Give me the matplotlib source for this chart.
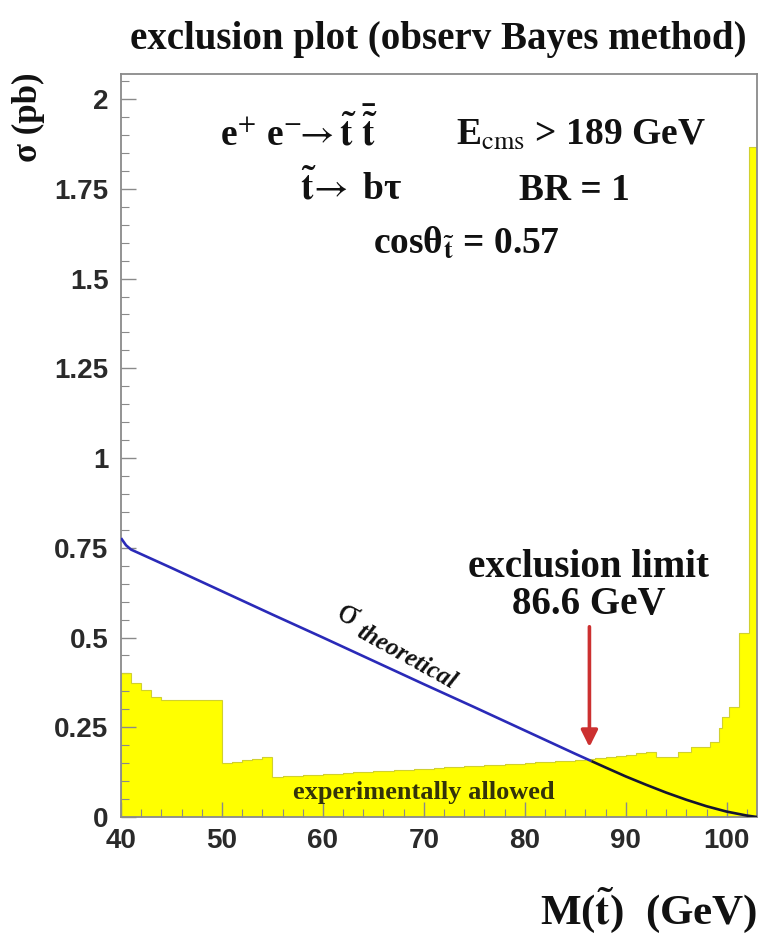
import numpy as np
import matplotlib
matplotlib.use("Agg")
import matplotlib.pyplot as plt

plt.rcParams['mathtext.fontset'] = 'stix'
plt.rcParams['font.family'] = ['Liberation Serif', 'DejaVu Serif']

# ---------------- data ----------------
# observed upper limit (yellow histogram): bin edges (GeV) and limit (pb)
limit_edges = [40, 41, 42, 43, 44, 50, 51, 52, 53, 54, 55,
               56, 57, 58, 59, 60, 61, 62, 63, 64, 65, 66, 67, 68, 69, 70,
               71, 72, 73, 74, 75, 76, 77, 78, 79, 80, 81, 82, 83, 84, 85,
               86, 87, 88, 89, 90, 91, 92, 93, 95.2, 96.5, 98.3, 99.2,
               99.5, 100.2, 101.2, 102.2, 103]
limit_values = [0.400, 0.373, 0.354, 0.334, 0.326, 0.150, 0.154, 0.158, 0.162, 0.166,
                0.111, 0.113, 0.114, 0.116, 0.117, 0.119, 0.121, 0.122, 0.124, 0.125,
                0.127, 0.129, 0.130, 0.132, 0.133, 0.135, 0.137, 0.138, 0.140, 0.141,
                0.143, 0.145, 0.146, 0.148, 0.149, 0.151, 0.153, 0.154, 0.156, 0.157,
                0.159, 0.161, 0.163, 0.166, 0.169, 0.173, 0.177, 0.181, 0.167, 0.180,
                0.195, 0.210, 0.248, 0.279, 0.306, 0.513, 1.866]

# theoretical cross section
theory_mass = [40, 40.5, 41, 45, 50, 55, 60, 65, 70, 75, 80, 85, 88, 90, 92, 94, 96, 98, 100, 102, 103]
theory_sigma = [0.777, 0.757, 0.745, 0.694, 0.629, 0.564, 0.500, 0.435, 0.370, 0.306,
                0.241, 0.176, 0.138, 0.113, 0.090, 0.068, 0.048, 0.030, 0.015, 0.004, 0.0]

exclusion_limit = 86.6

x_ticks = [40, 50, 60, 70, 80, 90, 100]
x_ticklabels = ['40', '50', '60', '70', '80', '90', '100']
y_ticks = [0, 0.25, 0.5, 0.75, 1, 1.25, 1.5, 1.75, 2]
y_ticklabels = ['0', '0.25', '0.5', '0.75', '1', '1.25', '1.5', '1.75', '2']

# ---------------- figure ----------------
W, H = 760, 933
fig = plt.figure(figsize=(W / 100, H / 100), dpi=100)
ax = fig.add_axes([121 / W, (H - 817) / H, (757 - 121) / W, (817 - 74) / H])
ax.set_xlim(40, 103)
ax.set_ylim(0, 2.07)

ax.stairs(limit_values, limit_edges, fill=True, color='#ffff00', zorder=1)
ax.stairs(limit_values, limit_edges, color='#d0d030', linewidth=0.8, zorder=2)

tm = np.array(theory_mass, dtype=float)
ts = np.array(theory_sigma, dtype=float)
s_cut = np.interp(exclusion_limit, tm, ts)
mask_lo = tm < exclusion_limit
ax.plot(np.append(tm[mask_lo], exclusion_limit), np.append(ts[mask_lo], s_cut),
        color='#2a2ab8', linewidth=1.9, zorder=3, solid_capstyle='butt')
ax.plot(np.insert(tm[~mask_lo], 0, exclusion_limit), np.insert(ts[~mask_lo], 0, s_cut),
        color='#151530', linewidth=1.9, zorder=3, solid_capstyle='butt')

# spines & ticks
for sp in ax.spines.values():
    sp.set_color('#8a8a8a')
    sp.set_linewidth(1.3)
ax.set_xticks(x_ticks)
ax.set_xticklabels(x_ticklabels)
ax.set_yticks(y_ticks)
ax.set_yticklabels(y_ticklabels)
ax.set_xticks(np.arange(40, 103, 2), minor=True)
ax.set_yticks(np.arange(0, 2.06, 0.05), minor=True)
ax.tick_params(which='both', direction='in', color='#8a8a8a', top=False, right=False)
ax.tick_params(which='major', length=11, width=1.0)
ax.tick_params(which='minor', length=5.5, width=0.8)
ax.tick_params(axis='x', pad=8)
ax.tick_params(axis='y', pad=9)
for lab in ax.get_xticklabels() + ax.get_yticklabels():
    lab.set_fontfamily(['Liberation Sans', 'DejaVu Sans'])
    lab.set_fontweight('bold')
    lab.set_fontsize(20)
    lab.set_color('#2a2a2a')

# ---------------- texts ----------------
tk = dict(fontsize=27, color='#111111', ha='center', va='baseline', fontweight='bold')
ax.text(57.6, 1.872, r'e$^{+}$ e$^{-}\!\!\rightarrow\mathbf{\tilde{t}\ \bar{\tilde{t}}}$', **tk)
ax.text(85.6, 1.872, r'E$_{\rm cms}$ > 189 GeV', **tk)
ax.text(62.8, 1.719, r'$\mathbf{\tilde{t}}\!\rightarrow$ bτ', **tk)
ax.text(84.9, 1.719, 'BR = 1', **tk)
ax.text(74.2, 1.571, r'cosθ$_{\mathbf{\tilde{t}}}$ = 0.57', **tk)

ax.text(62.5, 0.563, 'σ', fontsize=27, rotation=-29, ha='center', va='center',
        color='#111111', zorder=4)
ax.text(68.3, 0.446, 'theoretical', fontsize=18, rotation=-29, ha='center', va='center',
        fontweight='bold', fontstyle='italic', color='#111111', zorder=4)

ax.text(86.3, 0.696, 'exclusion limit', fontsize=28, fontweight='bold', ha='center',
        va='center', color='#111111')
ax.text(86.3, 0.592, '86.6 GeV', fontsize=28, fontweight='bold', ha='center',
        va='center', color='#111111')
ax.annotate('', xy=(exclusion_limit - 0.2, 0.195), xytext=(exclusion_limit - 0.2, 0.53),
            arrowprops=dict(arrowstyle='-|>,head_width=0.5,head_length=1.0',
                            color='#cc3030', lw=2.6, shrinkA=0, shrinkB=0), zorder=5)

ax.text(70.0, 0.067, 'experimentally allowed', fontsize=19, fontweight='bold',
        ha='center', va='center', color='#33330a', zorder=4)

fig.text(438 / W, 1 - 39 / H, 'exclusion plot (observ Bayes method)', fontsize=28,
         fontweight='bold', ha='center', va='center', color='#111111')
fig.text(28 / W, 1 - 73 / H, 'σ (pb)', fontsize=25, rotation=90, fontweight='bold',
         ha='center', va='top', color='#111111')
fig.text(757 / W, 1 - 910 / H, r'M($\mathbf{\tilde{t}}$)  (GeV)', fontsize=31,
         fontweight='bold', ha='right', va='center', color='#111111')

fig.savefig('out.png', dpi=100)
